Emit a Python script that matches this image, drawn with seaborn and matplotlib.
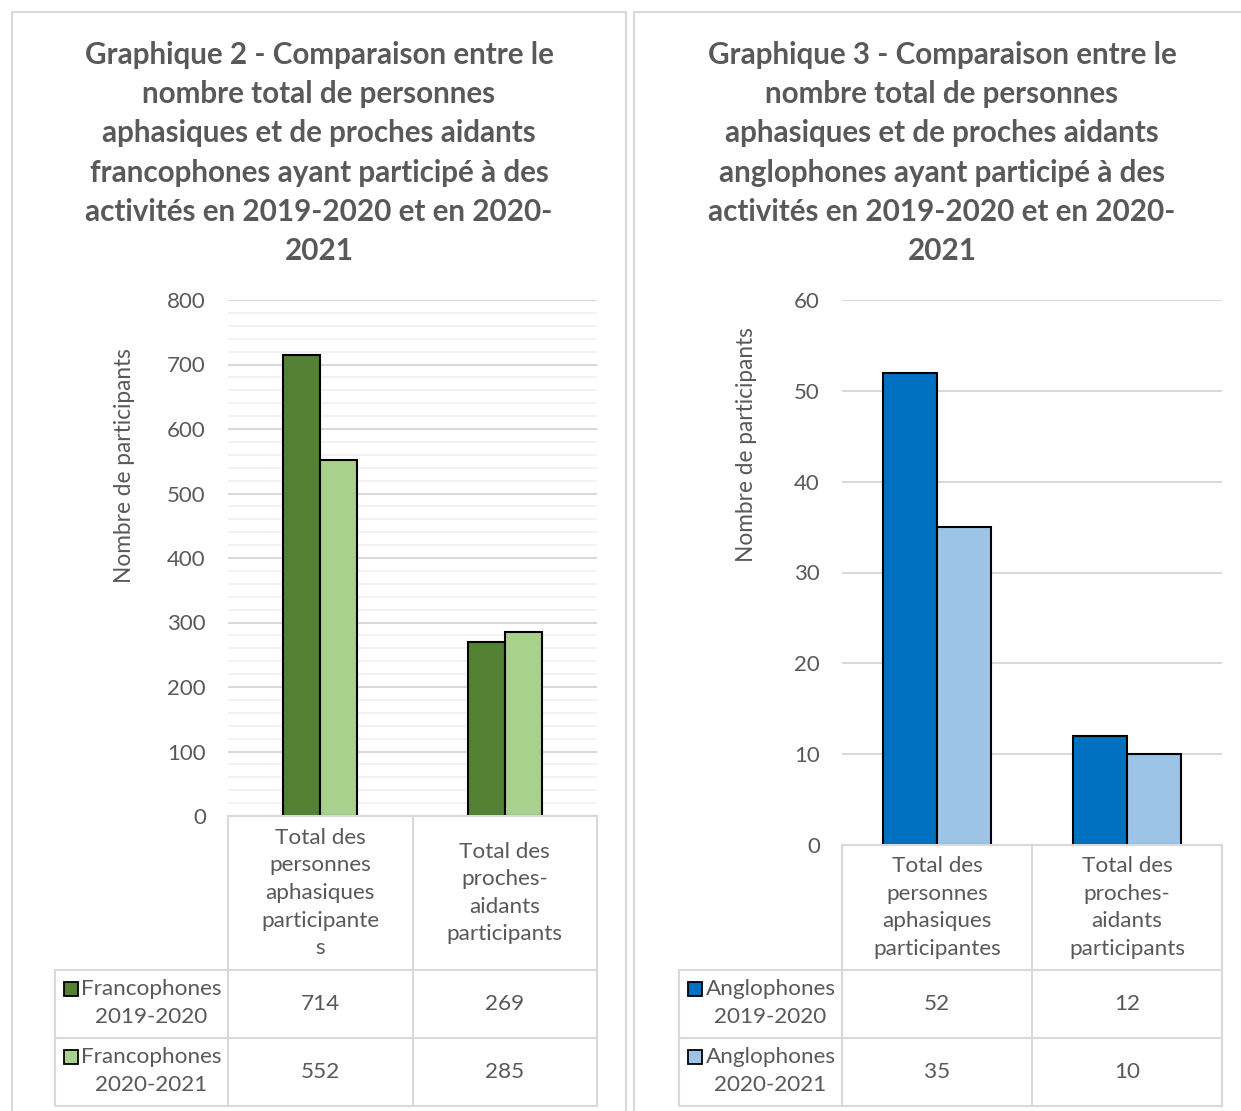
import numpy as np
import pandas as pd
import matplotlib
matplotlib.use("Agg")
import matplotlib.pyplot as plt
from matplotlib.patches import Rectangle
from matplotlib.lines import Line2D
from matplotlib.transforms import blended_transform_factory
import seaborn as sns

# ---------------- data ----------------
categories = ["Aphasiques", "Proches"]
header_fr = ["Total des\npersonnes\naphasiques\nparticipante\ns",
             "Total des\nproches-\naidants\nparticipants"]
header_en = ["Total des\npersonnes\naphasiques\nparticipantes",
             "Total des\nproches-\naidants\nparticipants"]
series_fr = ["Francophones 2019-2020", "Francophones 2020-2021"]
series_en = ["Anglophones 2019-2020", "Anglophones 2020-2021"]
fr_2019_2020 = [714, 269]
fr_2020_2021 = [552, 285]
en_2019_2020 = [52, 12]
en_2020_2021 = [35, 10]
fr_ticks = [0, 100, 200, 300, 400, 500, 600, 700, 800]
en_ticks = [0, 10, 20, 30, 40, 50, 60]
title_fr = ("Graphique 2 - Comparaison entre le\nnombre total de personnes\n"
            "aphasiques et de proches aidants\nfrancophones ayant participé à des\n"
            "activités en 2019-2020 et en 2020-\n2021")
title_en = ("Graphique 3 - Comparaison entre le\nnombre total de personnes\n"
            "aphasiques et de proches aidants\nanglophones ayant participé à des\n"
            "activités en 2019-2020 et en 2020-\n2021")
ylabel = "Nombre de participants"

# ---------------- style ----------------
sns.set_style("white")
FONT = ["Lato", "DejaVu Sans"]
plt.rcParams["font.family"] = FONT
TXT = "#595959"
GRID = "#d9d9d9"
MINOR = "#f0f0f0"
FS = 16.2

W, H = 1241, 1111
fig = plt.figure(figsize=(W / 100, H / 100), dpi=100)


def fx(x):
    return x / W


def fy(y):
    return 1 - y / H


def line(x0, x1, y0, y1, color=GRID, lw=1.5):
    fig.add_artist(Line2D([fx(x0), fx(x1)], [fy(y0), fy(y1)],
                          transform=fig.transFigure, color=color, lw=lw))


def panel(x_left, x_right, y_top, y_zero, label_x0, header, series, vals, ticks,
          minor_step, colors, width, title, title_x, ylab_xfrac, ylab_yfrac):
    ax = fig.add_axes([fx(x_left), fy(y_zero), (x_right - x_left) / W,
                       (y_zero - y_top) / H])
    df = pd.DataFrame({
        "cat": categories * 2,
        "val": list(vals[0]) + list(vals[1]),
        "series": [series[0]] * 2 + [series[1]] * 2,
    })
    sns.barplot(data=df, x="cat", y="val", hue="series", hue_order=series,
                order=categories, palette=colors, saturation=1, width=width,
                gap=0, edgecolor="black", linewidth=1.5, legend=False, ax=ax,
                errorbar=None)
    ax.set_xlim(-0.5, 1.5)
    ax.set_ylim(ticks[0], ticks[-1])
    ax.set_yticks(ticks)
    ax.set_yticklabels([str(t) for t in ticks], color=TXT, fontsize=16)
    if minor_step:
        ax.set_yticks(np.arange(ticks[0], ticks[-1] + 1e-9, minor_step), minor=True)
        ax.grid(axis="y", which="minor", color=MINOR, lw=1.2)
    ax.grid(axis="y", which="major", color=GRID, lw=1.5)
    ax.set_axisbelow(True)
    ax.tick_params(axis="y", which="both", length=0, pad=16)
    ax.set_xticks([])
    ax.set_xlabel("")
    ax.set_ylabel(ylabel, color=TXT, fontsize=16.3)
    ax.yaxis.set_label_coords(ylab_xfrac, ylab_yfrac)
    for s in ax.spines.values():
        s.set_visible(False)

    # ---------- data table ----------
    tr = blended_transform_factory(ax.transData, fig.transFigure)
    col_edges_px = [x_left, (x_left + x_right) / 2, x_right]
    rows_y = [970, 1038, 1106]
    line(x_left, x_right, y_zero, y_zero)
    for y in rows_y:
        line(label_x0, x_right, y, y)
    for x in col_edges_px:
        line(x, x, y_zero, rows_y[-1])
    line(label_x0, label_x0, rows_y[0], rows_y[-1])
    # headers
    for i, h in enumerate(header):
        fig.text(i, fy((y_zero + rows_y[0]) / 2), h, transform=tr, ha="center",
                 va="center", color=TXT, fontsize=FS, linespacing=1.47)
    # rows
    lab_cx = (label_x0 + x_left) / 2 + 10
    for r in range(2):
        top = rows_y[r]
        bot = rows_y[r + 1]
        yc = (top + bot) / 2
        name, period = series[r].split(" ")
        fig.text(fx(lab_cx), fy(top + 19), name, ha="center", va="center",
                 color=TXT, fontsize=FS)
        fig.text(fx(lab_cx), fy(top + 47), period, ha="center", va="center",
                 color=TXT, fontsize=FS)
        fig.add_artist(Rectangle((fx(label_x0 + 9), fy(top + 26)), 14 / W, 14 / H,
                                 transform=fig.transFigure, facecolor=colors[r],
                                 edgecolor="black", lw=1.3))
        for c in range(2):
            fig.text(c, fy(yc), str(vals[r][c]), transform=tr, ha="center",
                     va="center", color=TXT, fontsize=FS)

    fig.text(fx(title_x), fy(153), title, ha="center", va="center", color=TXT,
             fontsize=21.3, fontweight="bold", linespacing=1.49)
    return ax


# panel borders
fig.add_artist(Rectangle((fx(12), fy(1120)), (626 - 12) / W, (1120 - 12) / H,
                         transform=fig.transFigure, fill=False, ec=GRID, lw=1.5))
fig.add_artist(Rectangle((fx(634), fy(1120)), (1250 - 634) / W, (1120 - 12) / H,
                         transform=fig.transFigure, fill=False, ec=GRID, lw=1.5))

panel(228, 597, 300, 816, 55, header_fr, series_fr, [fr_2019_2020, fr_2020_2021],
      fr_ticks, 20, ["#548235", "#A9D18E"], 0.4, title_fr, 319, -0.252, 0.68)
panel(842, 1222, 300, 845, 679, header_en, series_en, [en_2019_2020, en_2020_2021],
      en_ticks, None, ["#0070C0", "#9DC3E6"], 0.57, title_en, 942, -0.224, 0.734)

fig.savefig("out.png", dpi=100)
